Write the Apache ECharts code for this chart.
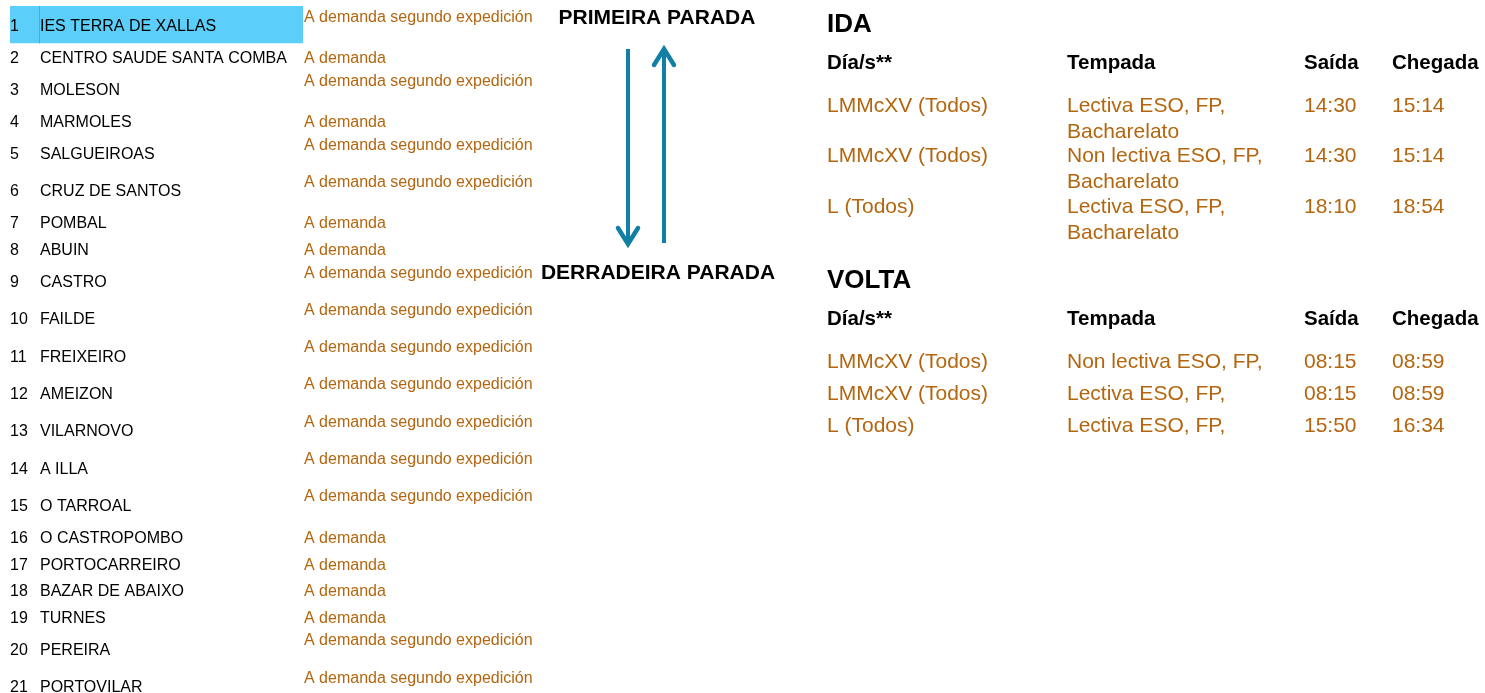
<!DOCTYPE html>
<html><head><meta charset="utf-8">
<script src="https://cdn.jsdelivr.net/npm/echarts@6/dist/echarts.min.js"></script>
<style>html,body{margin:0;padding:0;background:#fff}#c{width:1485px;height:693px}</style>
</head><body><div id="c"></div>
<script>
// ---------- DATA ----------
const stopNumbers = [1,2,3,4,5,6,7,8,9,10,11,12,13,14,15,16,17,18,19,20,21];
const stopNames = ['IES TERRA DE XALLAS','CENTRO SAUDE SANTA COMBA','MOLESON','MARMOLES','SALGUEIROAS','CRUZ DE SANTOS','POMBAL','ABUIN','CASTRO','FAILDE','FREIXEIRO','AMEIZON','VILARNOVO','A ILLA','O TARROAL','O CASTROPOMBO','PORTOCARREIRO','BAZAR DE ABAIXO','TURNES','PEREIRA','PORTOVILAR'];
const SEG = 'A demanda segundo expedición', DEM = 'A demanda';
const stopDemand = [SEG,DEM,SEG,DEM,SEG,SEG,DEM,DEM,SEG,SEG,SEG,SEG,SEG,SEG,SEG,DEM,DEM,DEM,DEM,SEG,SEG];
const highlightedStop = 0;
const firstStopLabel = 'PRIMEIRA PARADA';
const lastStopLabel = 'DERRADEIRA PARADA';

const idaTitle = 'IDA';
const voltaTitle = 'VOLTA';
const tableHeaders = ['Día/s**','Tempada','Saída','Chegada'];
const idaDays = ['LMMcXV (Todos)','LMMcXV (Todos)','L (Todos)'];
const idaSeason = ['Lectiva ESO, FP,\nBacharelato','Non lectiva ESO, FP,\nBacharelato','Lectiva ESO, FP,\nBacharelato'];
const idaDeparture = ['14:30','14:30','18:10'];
const idaArrival = ['15:14','15:14','18:54'];
const voltaDays = ['LMMcXV (Todos)','LMMcXV (Todos)','L (Todos)'];
const voltaSeason = ['Non lectiva ESO, FP,','Lectiva ESO, FP,','Lectiva ESO, FP,'];
const voltaDeparture = ['08:15','08:15','15:50'];
const voltaArrival = ['08:59','08:59','16:34'];

// ---------- LAYOUT / STYLE ----------
const FONT = '"Liberation Sans", Arial, sans-serif';
const BROWN = '#B3660F';
const BLUE = '#127FA6';
const ROW_SEG = 37.3, ROW_DEM = 26.7, LIST_TOP = 6, LIST_GRID_H = 600;
const COL_X = [0, 240, 477, 565];

const rowHeights = stopDemand.map(d => d === SEG ? ROW_SEG : ROW_DEM);
const rowCenters = [];
let acc = 0;
rowHeights.forEach(h => { rowCenters.push(acc + h / 2); acc += h; });

function txt(x, y, text, opts) {
  return Object.assign({type:'text', x, y, style: Object.assign({
    text, fill:'#000', fontFamily: FONT, fontSize: 16, align:'left', verticalAlign:'middle'
  }, opts || {})});
}

function stopRender(params, api) {
  const i = params.dataIndex;
  const p = api.coord([0, api.value(1)]);
  const hh = api.size([0, rowHeights[i]])[1];
  const ch = [];
  if (i === highlightedStop) {
    ch.push({type:'rect', shape:{x:10, y:p[1]-hh/2, width:293, height:hh}, style:{fill:'#5BCEFA'}});
    ch.push({type:'line', shape:{x1:39.5, y1:p[1]-hh/2, x2:39.5, y2:p[1]+hh/2}, style:{stroke:'#3AAEE0', lineWidth:1}});
  }
  ch.push(txt(p[0]+10, p[1]+2, String(stopNumbers[i])));
  ch.push(txt(p[0]+40, p[1]+2, stopNames[i]));
  const dy = stopDemand[i] === SEG ? -9.5 : 0;
  ch.push(txt(p[0]+304, p[1]+2+dy, stopDemand[i], {fill: BROWN}));
  return {type:'group', children: ch};
}

function tableRender(cols) {
  return function(params, api) {
    const i = params.dataIndex;
    const p = api.coord([0, api.value(1)]);
    return {type:'group', children: cols.map((arr, c) =>
      txt(p[0]+COL_X[c], p[1]-13, arr[i], {fill: BROWN, fontSize: 21, lineHeight: 26, verticalAlign:'top'}))};
  };
}

const chart = echarts.init(document.getElementById('c'), null, {renderer:'canvas'});

const graphics = [];
graphics.push(txt(657, 18, firstStopLabel, {fontSize:21, fontWeight:'bold', align:'center'}));
graphics.push(txt(658, 273, lastStopLabel, {fontSize:21, fontWeight:'bold', align:'center'}));
// arrows
graphics.push({type:'line', shape:{x1:628, y1:49, x2:628, y2:244}, style:{stroke:BLUE, lineWidth:4}});
graphics.push({type:'polyline', shape:{points:[[618,228],[628,244],[638,228]]}, style:{stroke:BLUE, lineWidth:4.5, lineCap:'round', lineJoin:'miter', fill:null}});
graphics.push({type:'line', shape:{x1:664, y1:243, x2:664, y2:50}, style:{stroke:BLUE, lineWidth:4}});
graphics.push({type:'polyline', shape:{points:[[654,65],[664,49],[674,65]]}, style:{stroke:BLUE, lineWidth:4.5, lineCap:'round', lineJoin:'miter', fill:null}});
// titles and headers
graphics.push(txt(827, 25, idaTitle, {fontSize:26, fontWeight:'bold'}));
graphics.push(txt(827, 281, voltaTitle, {fontSize:26, fontWeight:'bold'}));
tableHeaders.forEach((h, c) => {
  graphics.push(txt(827+COL_X[c], 63, h, {fontSize:20.5, fontWeight:'bold'}));
  graphics.push(txt(827+COL_X[c], 319, h, {fontSize:20.5, fontWeight:'bold'}));
});

chart.setOption({
  animation: false,
  grid: [
    {left:0, top:LIST_TOP, width:560, height:LIST_GRID_H},
    {left:827, top:80.75, width:650, height:151.5},
    {left:827, top:346, width:650, height:96}
  ],
  xAxis: [
    {type:'value', gridIndex:0, min:0, max:1, show:false},
    {type:'value', gridIndex:1, min:0, max:1, show:false},
    {type:'value', gridIndex:2, min:0, max:1, show:false}
  ],
  yAxis: [
    {type:'value', gridIndex:0, min:0, max:LIST_GRID_H, inverse:true, show:false},
    {type:'category', gridIndex:1, data:idaDays.map((d,i)=>i), inverse:true, show:false},
    {type:'category', gridIndex:2, data:voltaDays.map((d,i)=>i), inverse:true, show:false}
  ],
  graphic: graphics,
  series: [
    {type:'custom', name:'stops', xAxisIndex:0, yAxisIndex:0, renderItem: stopRender,
     data: stopNames.map((n, i) => [0, rowCenters[i]]), silent:true, clip:false},
    {type:'custom', name:'ida', xAxisIndex:1, yAxisIndex:1,
     renderItem: tableRender([idaDays, idaSeason, idaDeparture, idaArrival]),
     data: idaDays.map((d, i) => [0, i]), silent:true, clip:false},
    {type:'custom', name:'volta', xAxisIndex:2, yAxisIndex:2,
     renderItem: tableRender([voltaDays, voltaSeason, voltaDeparture, voltaArrival]),
     data: voltaDays.map((d, i) => [0, i]), silent:true, clip:false}
  ]
});
</script></body></html>
